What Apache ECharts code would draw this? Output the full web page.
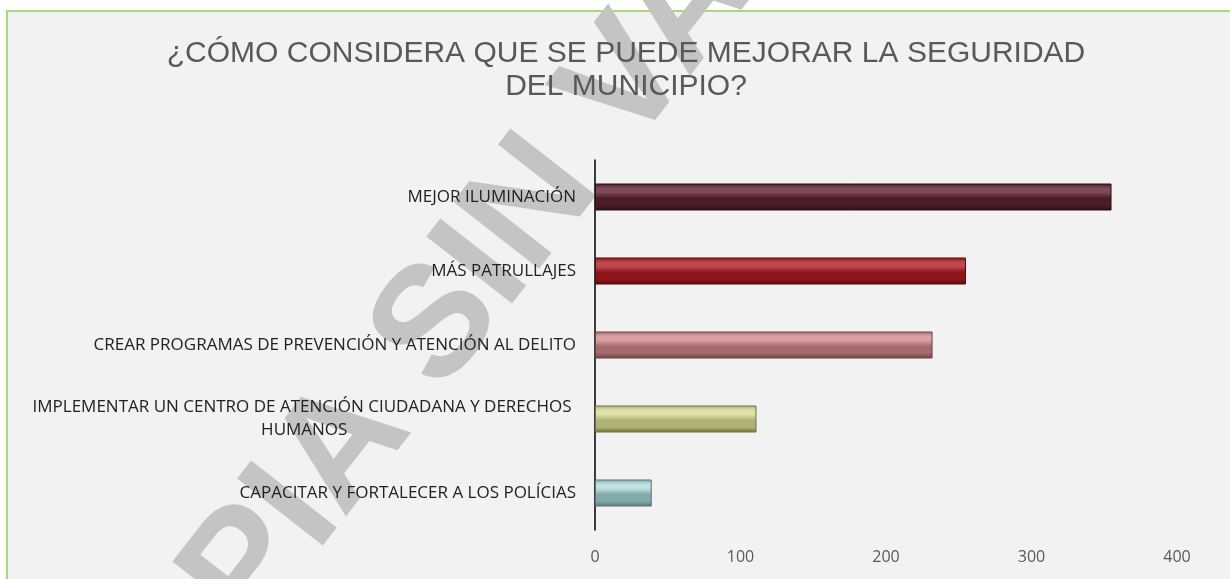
<!DOCTYPE html>
<html>
<head>
<meta charset="utf-8">
<script src="https://cdn.jsdelivr.net/npm/echarts@6/dist/echarts.min.js"></script>
<style>
html,body{margin:0;padding:0;background:#ffffff;}
#c{width:1230px;height:579px;}
</style>
</head>
<body>
<div id="c"></div>
<script>
var titleLines = ['¿CÓMO CONSIDERA QUE SE PUEDE MEJORAR LA SEGURIDAD', 'DEL MUNICIPIO?'];
var categories = [
  'MEJOR ILUMINACIÓN',
  'MÁS PATRULLAJES',
  'CREAR PROGRAMAS DE PREVENCIÓN Y ATENCIÓN AL DELITO',
  'IMPLEMENTAR UN CENTRO DE ATENCIÓN CIUDADANA Y DERECHOS \nHUMANOS',
  'CAPACITAR Y FORTALECER A LOS POLÍCIAS'
];
var values = [355, 255, 232, 111, 39];
var xTicks = [0, 100, 200, 300, 400];
var barBase = ['#4b1c25', '#8e1419', '#a66a6c', '#b1b278', '#84abab'];
var barLight = ['#7f4b56', '#bd4a4f', '#d9a2a2', '#e0e1a9', '#c0e2e2'];
var barDark = ['#2c0e14', '#560a0d', '#6a4244', '#72733f', '#567676'];
var watermark = 'COPIA SIN VALOR';

var chart = echarts.init(document.getElementById('c'), null, {renderer: 'canvas'});

var dataItems = values.map(function (v, i) {
  return {
    value: v,
    itemStyle: {
      color: new echarts.graphic.LinearGradient(0, 0, 0, 1, [
        {offset: 0, color: barBase[i]},
        {offset: 0.18, color: barLight[i]},
        {offset: 0.32, color: barLight[i]},
        {offset: 0.55, color: barBase[i]},
        {offset: 0.8, color: barBase[i]},
        {offset: 1, color: barDark[i]}
      ]),
      borderColor: barDark[i],
      borderWidth: 1
    }
  };
});

chart.setOption({
  backgroundColor: '#ffffff',
  animation: false,
  graphic: [
    {type: 'rect', z: -100, silent: true,
     shape: {x: 7, y: 11, width: 1240, height: 600},
     style: {fill: '#f2f2f2', stroke: '#a8d877', lineWidth: 2}},
    {type: 'text', z: -50, silent: true,
     x: 500, y: 248, rotation: 52 * Math.PI / 180,
     style: {text: watermark, fill: '#c4c4c4', font: 'bold 158px "Liberation Sans", Arial, sans-serif',
             align: 'center', verticalAlign: 'middle'}}
  ],
  title: {
    text: titleLines.join('\n'),
    left: 621, top: 32, textAlign: 'center',
    textStyle: {fontFamily: '"Liberation Sans", Arial, sans-serif', fontSize: 30, fontWeight: 'normal',
                color: '#595959', lineHeight: 33}
  },
  grid: {left: 595, right: 53, top: 160, bottom: 49, containLabel: false},
  xAxis: {
    type: 'value', min: 0, max: 400, interval: 100,
    axisLine: {show: false}, axisTick: {show: false}, splitLine: {show: false},
    axisLabel: {
      margin: 19, color: '#595959', fontSize: 16,
      fontFamily: '"Open Sans", sans-serif',
      formatter: function (v) { return xTicks.indexOf(v) >= 0 ? String(v) : ''; }
    }
  },
  yAxis: {
    type: 'category', inverse: true, data: categories,
    axisLine: {show: true, lineStyle: {color: '#000000', width: 1.5}},
    axisTick: {show: false},
    axisLabel: {
      margin: 19, color: '#262626',
      formatter: function (v) {
        return v.split('\n').map(function (s) { return '{c|' + s + '}'; }).join('\n');
      },
      rich: {c: {align: 'center', fontSize: 17, fontFamily: '"Open Sans", sans-serif', color: '#222222', lineHeight: 23}}
    }
  },
  series: [{
    type: 'bar', data: dataItems, barWidth: 27
  }]
});
</script>
</body>
</html>
